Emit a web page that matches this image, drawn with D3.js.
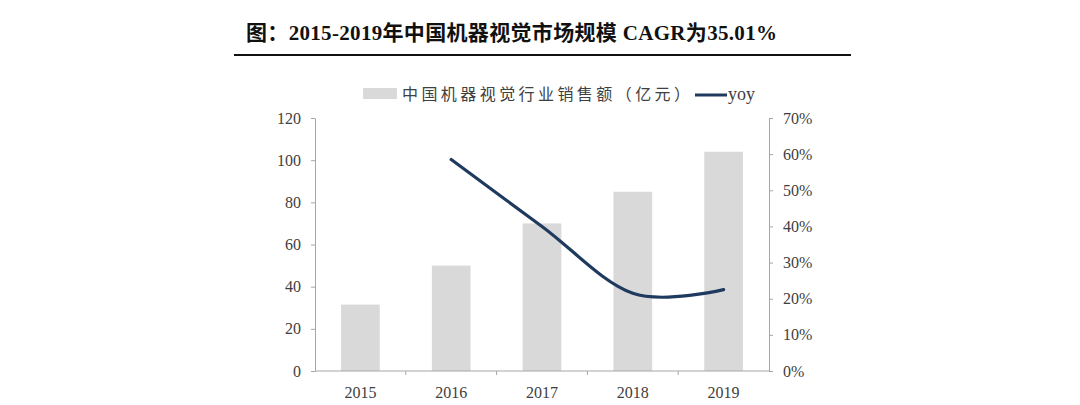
<!DOCTYPE html>
<html lang="zh">
<head>
  <meta charset="UTF-8">
  <title>中国机器视觉市场规模</title>
  <script src="https://d3js.org/d3.v7.min.js"></script>
  <style>
    body { margin: 0; background: #fff; }
    svg text { font-family: "Liberation Serif", "Noto Sans CJK SC", serif; }
  </style>
</head>
<body>
<script type="text/javascript">
    // data
    var years = ["2015", "2016", "2017", "2018", "2019"];
    var sales = [31.5, 50, 70, 85, 104];          // 亿元
    var yoy = [null, 0.585, 0.40, 0.215, 0.225];  // growth
    var leftTicks = [0, 20, 40, 60, 80, 100, 120];
    var rightTicks = [0, 0.1, 0.2, 0.3, 0.4, 0.5, 0.6, 0.7];

    var width = 1080, height = 405;
    var x0 = 315, x1 = 769, yTop = 118, yBot = 371;

    var svg = d3.select("body").append("svg")
                .attr("width", width)
                .attr("height", height);

    // title + rule
    svg.append("text")
       .attr("x", 246).attr("y", 40)
       .attr("font-size", 21).attr("font-weight", "bold")
       .attr("fill", "#111")
       .attr("textLength", 531).attr("lengthAdjust", "spacing")
       .text("图：2015-2019年中国机器视觉市场规模 CAGR为35.01%");
    svg.append("line")
       .attr("x1", 234).attr("x2", 851)
       .attr("y1", 55).attr("y2", 55)
       .attr("stroke", "#111").attr("stroke-width", 2);

    var x = d3.scaleBand().domain(years).range([x0, x1])
              .paddingInner(0.574).paddingOuter(0.287);
    var yL = d3.scaleLinear().domain([0, 120]).range([yBot, yTop]);
    var yR = d3.scaleLinear().domain([0, 0.7]).range([yBot, yTop]);

    // bars
    svg.selectAll("rect.bar")
       .data(sales)
       .enter()
       .append("rect")
       .attr("class", "bar")
       .attr("x", function(d, i){ return x(years[i]); })
       .attr("width", x.bandwidth())
       .attr("y", function(d){ return yL(d); })
       .attr("height", function(d){ return yBot - yL(d); })
       .attr("fill", "#d9d9d9");

    // axes
    var axisColor = "#a6a6a6", labelColor = "#404040";
    function styleAxis(g) {
      g.selectAll("path, line").attr("stroke", axisColor);
      g.selectAll("text").attr("fill", labelColor)
       .attr("font-size", 16)
       .style("font-family", "'Liberation Serif', serif");
    }

    svg.append("g")
       .attr("transform", "translate(" + x0 + ",0)")
       .call(d3.axisLeft(yL).tickValues(leftTicks).tickSize(4).tickSizeOuter(0).tickPadding(10))
       .call(styleAxis);

    svg.append("g")
       .attr("transform", "translate(" + x1 + ",0)")
       .call(d3.axisRight(yR).tickValues(rightTicks).tickSize(4).tickSizeOuter(0).tickPadding(10)
               .tickFormat(d3.format(".0%")))
       .call(styleAxis);

    var xAxis = svg.append("g")
       .attr("transform", "translate(0," + yBot + ")")
       .call(d3.axisBottom(x).tickSize(0).tickSizeOuter(0).tickPadding(16))
       .call(styleAxis);
    xAxis.select(".domain").attr("d", "M" + x0 + ",0H" + x1);
    // small ticks between categories
    var sepX = function(d){ return x(d) - (x.step() - x.bandwidth()) / 2; };
    xAxis.selectAll("line.sep")
       .data(years.slice(1))
       .enter()
       .append("line")
       .attr("class", "sep")
       .attr("x1", sepX)
       .attr("x2", sepX)
       .attr("y1", 0).attr("y2", 4)
       .attr("stroke", axisColor);

    // yoy line
    var pts = yoy.map(function(d, i){ return [years[i], d]; })
                 .filter(function(p){ return p[1] !== null; });
    var line = d3.line()
                 .x(function(p){ return x(p[0]) + x.bandwidth() / 2; })
                 .y(function(p){ return yR(p[1]); })
                 .curve(d3.curveCatmullRom.alpha(0));
    svg.append("path")
       .datum(pts)
       .attr("d", line)
       .attr("fill", "none")
       .attr("stroke", "#1f3a5f")
       .attr("stroke-width", 3.2)
       .attr("stroke-linecap", "round");

    // legend
    var lg = svg.append("g");
    lg.append("rect")
      .attr("x", 363).attr("y", 88).attr("width", 34).attr("height", 11)
      .attr("fill", "#d9d9d9");
    lg.append("text")
      .attr("x", 402).attr("y", 100)
      .attr("font-size", 16).attr("fill", labelColor)
      .attr("textLength", 288).attr("lengthAdjust", "spacing")
      .style("font-family", "'Noto Sans CJK SC', sans-serif")
      .text("中国机器视觉行业销售额（亿元）");
    lg.append("line")
      .attr("x1", 695).attr("x2", 727).attr("y1", 95).attr("y2", 95)
      .attr("stroke", "#1f3a5f").attr("stroke-width", 3);
    lg.append("text")
      .attr("x", 728).attr("y", 100)
      .attr("font-size", 18).attr("fill", labelColor)
      .text("yoy");
</script>
</body>
</html>
